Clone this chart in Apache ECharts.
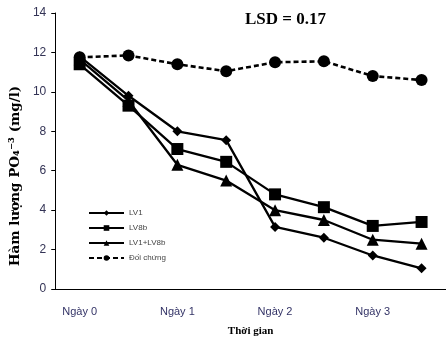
<!DOCTYPE html>
<html>
<head>
<meta charset="utf-8">
<script src="https://cdn.jsdelivr.net/npm/echarts@6/dist/echarts.min.js"></script>
<style>
  html, body { margin: 0; padding: 0; background: #fff; }
  #chart { width: 446px; height: 342px; }
</style>
</head>
<body>
<div id="chart"></div>
<script>
// categories: 8 sampling points, labels only on each day
const days = ["Ngày 0", "0.5", "Ngày 1", "1.5", "Ngày 2", "2.5", "Ngày 3", "3.5"];
const seriesNames = ["LV1", "LV8b", "LV1+LV8b", "Đối chứng"];

const lv1 = [11.8, 9.8, 8.0, 7.55, 3.15, 2.6, 1.7, 1.05];
const lv8b = [11.4, 9.3, 7.1, 6.45, 4.8, 4.15, 3.2, 3.4];
const lv1lv8b = [11.65, 9.55, 6.3, 5.5, 4.0, 3.5, 2.5, 2.3];
const doiChung = [11.75, 11.85, 11.4, 11.05, 11.5, 11.55, 10.8, 10.6];

const yTicks = [0, 2, 4, 6, 8, 10, 12, 14];

let chart = echarts.init(document.getElementById("chart"));

function line(name, data, symbol, size, dashed) {
  return {
    name: name,
    type: 'line',
    data: data,
    symbol: symbol,
    symbolSize: size,
    itemStyle: { color: '#000' },
    lineStyle: { color: '#000', width: dashed ? 2.6 : 2.3, type: dashed ? [5, 3] : 'solid' },
    animation: false
  };
}

chart.setOption({
  title: {
    text: "LSD = 0.17",
    left: 240,
    top: 6,
    textStyle: { fontFamily: 'Liberation Serif', fontWeight: 'bold', fontSize: 17, color: '#000' }
  },
  legend: {
    data: seriesNames,
    orient: 'vertical',
    left: 83,
    top: 204,
    itemWidth: 35,
    itemHeight: 7,
    itemGap: 7,
    textStyle: { fontSize: 8, color: '#444', fontFamily: 'Liberation Sans' }
  },
  grid: { left: 47, top: 13, width: 400, height: 280 },
  xAxis: {
    type: 'category',
    data: days,
    boundaryGap: true,
    name: "Thời gian",
    nameLocation: 'middle',
    nameGap: 37,
    nameTextStyle: { fontFamily: 'Liberation Serif', fontWeight: 'bold', fontSize: 11, color: '#000' },
    axisLine: { lineStyle: { color: '#000', width: 1 } },
    axisTick: { interval: 0, length: 4, lineStyle: { color: '#000' } },
    axisLabel: {
      interval: 1,
      margin: 17,
      fontSize: 11,
      color: '#333366',
      fontFamily: 'Liberation Sans'
    },
    splitLine: { show: false }
  },
  yAxis: {
    type: 'value',
    min: yTicks[0],
    max: yTicks[yTicks.length - 1],
    interval: 2,
    name: "Hàm lượng PO\u2084\u207B\u00B3 (mg/l)",
    nameLocation: 'middle',
    nameGap: 30,
    nameTextStyle: {
      fontFamily: 'DejaVu Serif', fontWeight: 'bold', fontSize: 13.5, color: '#000',
      padding: [0, 50, 0, 0]
    },
    axisLine: { show: true, lineStyle: { color: '#000', width: 1 } },
    axisTick: { show: true, length: 4, lineStyle: { color: '#000' } },
    axisLabel: { fontSize: 12, color: '#333355', margin: 9, fontFamily: 'Liberation Sans Narrow, Liberation Sans' },
    splitLine: { show: false }
  },
  series: [
    line(seriesNames[0], lv1, 'diamond', 10, false),
    line(seriesNames[1], lv8b, 'rect', 12, false),
    line(seriesNames[2], lv1lv8b, 'triangle', 12, false),
    line(seriesNames[3], doiChung, 'circle', 12, true)
  ]
});
</script>
</body>
</html>
